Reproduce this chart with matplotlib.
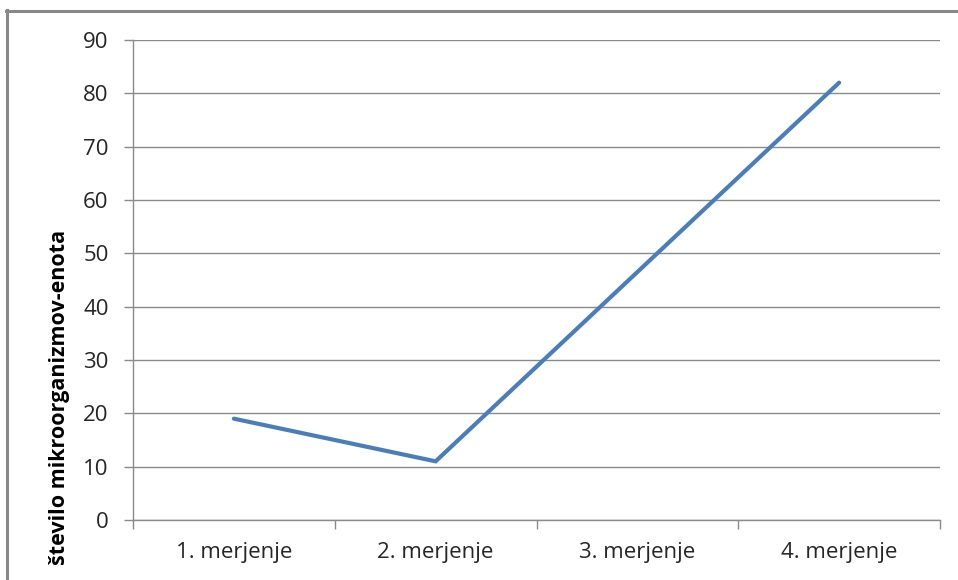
import matplotlib
matplotlib.use("Agg")
import matplotlib.pyplot as plt
from matplotlib.lines import Line2D

categories = ["1. merjenje", "2. merjenje", "3. merjenje", "4. merjenje"]
values = [19, 11, 46.5, 82]
y_ticks = [0, 10, 20, 30, 40, 50, 60, 70, 80, 90]
y_label = "število mikroorganizmov-enota"

plt.rcParams["font.family"] = ["Open Sans", "DejaVu Sans"]

W, H = 958, 580
fig = plt.figure(figsize=(W / 100, H / 100), dpi=100)
ax = fig.add_axes([133 / W, 1 - 520 / H, (940 - 133) / W, (520 - 40) / H])

grid_col = "#8a8a8a"
text_col = "#262626"

x = list(range(1, len(categories) + 1))
ax.plot(x, values, color="#4a7ebb", linewidth=3.0, solid_capstyle="round",
        solid_joinstyle="miter", zorder=3)

ax.set_xlim(0.5, len(categories) + 0.5)
ax.set_ylim(0, 90)
ax.set_yticks(y_ticks)
ax.set_yticklabels([str(v) for v in y_ticks])
ax.yaxis.grid(True, color=grid_col, linewidth=1.0)
ax.set_axisbelow(True)

ax.set_xticks(x)
ax.set_xticklabels(categories)
ax.set_xticks([i + 0.5 for i in range(len(categories) + 1)], minor=True)
ax.tick_params(axis="x", which="major", length=0, pad=16, labelsize=16, labelcolor=text_col)
ax.tick_params(axis="x", which="minor", length=6.5, width=1.0, color=grid_col, direction="out")
ax.tick_params(axis="y", length=6.5, width=1.0, color=grid_col, pad=11, labelsize=16, labelcolor=text_col)

for s in ("top", "right"):
    ax.spines[s].set_visible(False)
for s in ("left", "bottom"):
    ax.spines[s].set_color(grid_col)
    ax.spines[s].set_linewidth(1.0)

fig.text(60 / W, 1 - 397 / H, y_label, rotation=90, ha="center", va="center",
         fontsize=15.5, fontweight="bold", color="black")

# outer chart frame (left and top edges)
fig.add_artist(Line2D([7 / W, 7 / W], [0, 1 - 10 / H], transform=fig.transFigure,
                      color="#888888", linewidth=2.2))
fig.add_artist(Line2D([6 / W, 1], [1 - 11 / H, 1 - 11 / H], transform=fig.transFigure,
                      color="#888888", linewidth=2.2))

fig.savefig("out.png", dpi=100)
